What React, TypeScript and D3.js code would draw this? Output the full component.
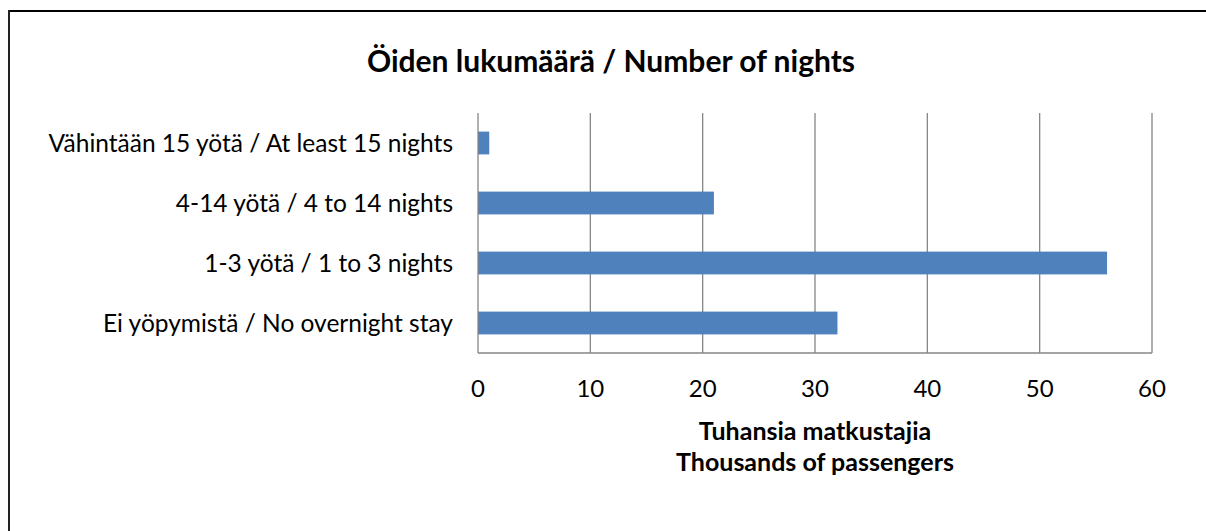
import React, { useRef, useEffect } from 'react';
import * as d3 from 'd3';

// chart data
const categories = [
  'Vähintään 15 yötä / At least 15 nights',
  '4-14 yötä / 4 to 14 nights',
  '1-3 yötä / 1 to 3 nights',
  'Ei yöpymistä / No overnight stay',
];
const values = [1, 21, 56, 32];
const xTicks = [0, 10, 20, 30, 40, 50, 60];
const titleText = 'Öiden lukumäärä / Number of nights';
const axisTitle = ['Tuhansia matkustajia', 'Thousands of passengers'];

function App() {
  const svgRef = useRef(null);

  useEffect(() => {
    const W = 1206;
    const H = 531;
    const font = 'Lato, Carlito, Calibri, sans-serif';
    const svg = d3.select(svgRef.current);
    svg.selectAll('*').remove();

    svg.append('rect').attr('width', W).attr('height', H).attr('fill', '#fff');
    // outer frame (top + left visible)
    svg.append('line').attr('x1', 8).attr('x2', W).attr('y1', 11).attr('y2', 11)
      .attr('stroke', '#000').attr('stroke-width', 2);
    svg.append('line').attr('x1', 9).attr('x2', 9).attr('y1', 10).attr('y2', H)
      .attr('stroke', '#222').attr('stroke-width', 2);

    const left = 478, right = 1152, top = 113, bottom = 353;
    const x = d3.scaleLinear().domain([0, 60]).range([left, right]);
    const y = d3.scaleBand().domain(categories).range([top, bottom]).paddingInner(0.62).paddingOuter(0.31);

    // grid
    svg.append('g').selectAll('line').data(xTicks.slice(1)).join('line')
      .attr('x1', (d) => x(d)).attr('x2', (d) => x(d))
      .attr('y1', top).attr('y2', bottom)
      .attr('stroke', '#868686').attr('stroke-width', 1.3);

    // bars
    svg.append('g').selectAll('rect').data(values).join('rect')
      .attr('x', x(0))
      .attr('y', (d, i) => y(categories[i]))
      .attr('width', (d) => x(d) - x(0))
      .attr('height', y.bandwidth())
      .attr('fill', '#4f81bd');

    // axes lines
    svg.append('line').attr('x1', left).attr('x2', left).attr('y1', top).attr('y2', bottom)
      .attr('stroke', '#868686').attr('stroke-width', 1.3);
    svg.append('line').attr('x1', left).attr('x2', right).attr('y1', bottom).attr('y2', bottom)
      .attr('stroke', '#868686').attr('stroke-width', 1.3);

    // x tick labels
    svg.append('g').selectAll('text').data(xTicks).join('text')
      .attr('x', (d) => x(d)).attr('y', 397)
      .attr('text-anchor', 'middle')
      .style('font-family', font).style('font-size', '24px').attr('fill', '#000')
      .text((d) => d);

    // category labels
    svg.append('g').selectAll('text').data(categories).join('text')
      .attr('x', 453).attr('y', (d) => y(d) + y.bandwidth() / 2 + 8.5)
      .attr('text-anchor', 'end')
      .style('font-family', font).style('font-size', '24.5px').attr('fill', '#000')
      .text((d) => d);

    // title
    svg.append('text').attr('x', 611).attr('y', 72).attr('text-anchor', 'middle')
      .style('font-family', font).style('font-size', '30px').style('font-weight', 'bold')
      .text(titleText);

    // axis title
    svg.append('g').selectAll('text').data(axisTitle).join('text')
      .attr('x', 815).attr('y', (d, i) => 440 + i * 31).attr('text-anchor', 'middle')
      .style('font-family', font).style('font-size', '25px').style('font-weight', 'bold')
      .text((d) => d);
  }, []);

  return (
    <svg ref={svgRef} width={1206} height={531} style={{ position: 'absolute', left: 0, top: 0 }}></svg>
  );
}

export default App;
